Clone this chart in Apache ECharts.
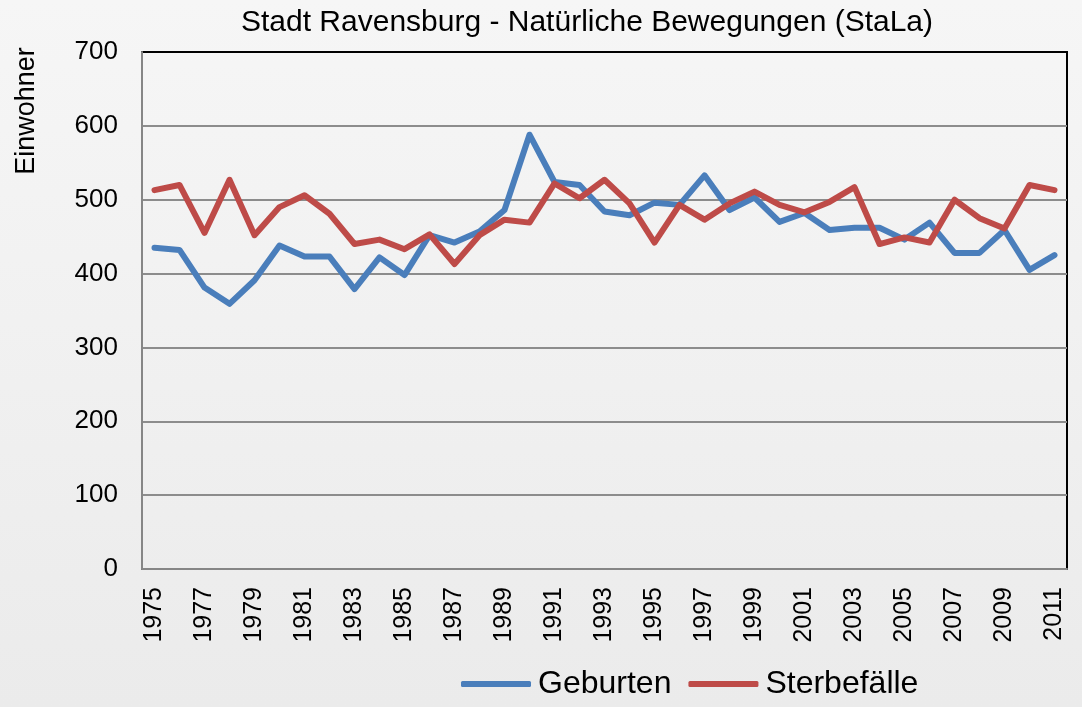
<!DOCTYPE html>
<html>
<head>
<meta charset="utf-8">
<style>
  html, body { margin: 0; padding: 0; }
  body {
    width: 1082px; height: 707px;
    background: linear-gradient(#f6f6f6, #ebebeb);
  }
  #chart { width: 1082px; height: 707px; }
</style>
<script src="https://cdn.jsdelivr.net/npm/echarts@6/dist/echarts.min.js"></script>
</head>
<body>
<div id="chart"></div>
<script>
// Jahre 1975 - 2011
var years = [];
for (var y = 1975; y <= 2011; y++) years.push(String(y));

var geburten = [435, 432, 381, 359, 391, 438, 423, 423, 379, 422, 398, 452,
  442, 457, 486, 588, 524, 520, 484, 479, 496, 493, 533, 486, 503,
  470, 482, 459, 462, 462, 446, 469, 428, 428, 459, 405, 425];

var sterbefaelle = [513, 520, 455, 527, 452, 490, 506, 481, 440, 446, 433, 453,
  413, 452, 473, 469, 522, 502, 527, 495, 442, 493, 473, 495, 511,
  493, 483, 497, 517, 440, 449, 442, 500, 475, 461, 520, 513];

var yTicks = [0, 100, 200, 300, 400, 500, 600, 700];

var font = 'Liberation Sans, Arial, sans-serif';
var chart = echarts.init(document.getElementById('chart'));

chart.setOption({
  backgroundColor: 'transparent',
  animation: false,
  title: {
    text: 'Stadt Ravensburg - Natürliche Bewegungen (StaLa)',
    left: 582,
    textAlign: 'center',
    top: 3,
    textStyle: { fontFamily: font, fontSize: 30, fontWeight: 'normal', color: '#000' }
  },
  graphic: [{
    type: 'text',
    x: 27,
    y: 111,
    rotation: Math.PI / 2,
    style: {
      text: 'Einwohner',
      font: '27px ' + font,
      fill: '#000',
      align: 'center',
      verticalAlign: 'middle'
    }
  }],
  legend: {
    bottom: 2,
    left: 456,
    itemWidth: 70,
    itemHeight: 6,
    itemGap: 17,
    icon: 'roundRect',
    textStyle: { fontFamily: font, fontSize: 32, color: '#000', padding: [0, 0, 0, 2] },
    data: ['Geburten', 'Sterbefälle']
  },
  grid: {
    left: 142, right: 15, top: 52, bottom: 138,
    show: true, borderColor: '#000', borderWidth: 2,
    backgroundColor: 'transparent'
  },
  xAxis: {
    type: 'category',
    data: years,
    boundaryGap: true,
    axisLine: { lineStyle: { color: '#868686', width: 2 } },
    axisTick: { show: false },
    axisLabel: {
      interval: 1,
      rotate: 90,
      margin: 18,
      fontFamily: font,
      fontSize: 25,
      color: '#000'
    }
  },
  yAxis: {
    type: 'value',
    min: yTicks[0],
    max: yTicks[yTicks.length - 1],
    interval: 100,
    axisLine: { show: true, lineStyle: { color: '#868686', width: 2 } },
    axisTick: { show: false },
    splitLine: { showMaxLine: false, lineStyle: { color: '#8c8c8c', width: 2 } },
    axisLabel: {
      margin: 24,
      fontFamily: font,
      fontSize: 26,
      color: '#000'
    }
  },
  series: [{
    name: 'Geburten',
    type: 'line',
    data: geburten,
    symbol: 'none',
    color: '#4a7ebb',
    lineStyle: { width: 6, cap: 'round', join: 'round' }
  }, {
    name: 'Sterbefälle',
    type: 'line',
    data: sterbefaelle,
    symbol: 'none',
    color: '#be4b48',
    lineStyle: { width: 6, cap: 'round', join: 'round' }
  }]
});
</script>
</body>
</html>
